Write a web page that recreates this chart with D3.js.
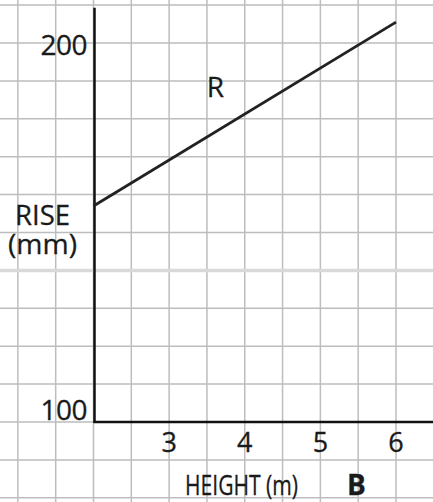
<!DOCTYPE html>
<html>
<head>
<meta charset="utf-8">
<script src="https://cdn.jsdelivr.net/npm/d3@7"></script>
<style>
html,body{margin:0;padding:0;background:#fff;}
svg{display:block;}
text{font-family:"Open Sans","Noto Sans",sans-serif;fill:#1a1a1a;stroke:#1a1a1a;stroke-width:0.3px;}
</style>
</head>
<body>
<script>
// Data
const heights = [2, 6];            // HEIGHT (m)
const riseR = [157, 205.5];        // RISE (mm) for line R
const xTicks = [3, 4, 5, 6];
const yTicks = [100, 200];
const seriesLabel = "R";
const xTitle = "HEIGHT (m)";
const panelLabel = "B";
const yTitle = ["RISE", "(mm)"];

const W = 433, H = 502;
const svg = d3.select("body").append("svg").attr("width", W).attr("height", H);

const x = d3.scaleLinear().domain([2, 6]).range([93.5, 396]);
const y = d3.scaleLinear().domain([100, 200]).range([422, 43]);

// grid
const gx = d3.range(1, 7.01, 0.5);
const gy = d3.range(80, 211, 10);
svg.append("g").selectAll("line").data(gx).join("line")
  .attr("x1", d => x(d)).attr("x2", d => x(d))
  .attr("y1", 0).attr("y2", H)
  .attr("stroke", "#bdbdbd").attr("stroke-width", 1.5);
svg.append("g").selectAll("line").data(gy).join("line")
  .attr("x1", 0).attr("x2", W)
  .attr("y1", d => y(d)).attr("y2", d => y(d))
  .attr("stroke", d => d === 140 ? "#d9d9d9" : "#bdbdbd")
  .attr("stroke-width", d => d === 140 ? 3.5 : 1.5);

// axes
svg.append("line")
  .attr("x1", x(2) + 1).attr("x2", x(2) + 1)
  .attr("y1", y(209.3)).attr("y2", y(100) + 1)
  .attr("stroke", "#111").attr("stroke-width", 2.5);
svg.append("line")
  .attr("x1", x(2)).attr("x2", W)
  .attr("y1", y(100)).attr("y2", y(100))
  .attr("stroke", "#111").attr("stroke-width", 2.5);

// tick labels
svg.append("g").selectAll("text").data(xTicks).join("text")
  .attr("x", d => x(d)).attr("y", 452)
  .attr("text-anchor", "middle").attr("font-size", 27)
  .text(d => d);
svg.append("g").selectAll("text").data(yTicks).join("text")
  .attr("x", 87).attr("y", d => d === 100 ? y(d) - 2 : y(d) + 12)
  .attr("text-anchor", "end").attr("font-size", 28).attr("letter-spacing", -0.5)
  .text(d => d);

// line R
const line = d3.line().x(d => x(d[0])).y(d => y(d[1]));
svg.append("path")
  .datum(heights.map((h, i) => [h, riseR[i]]))
  .attr("d", line)
  .attr("fill", "none").attr("stroke", "#222").attr("stroke-width", 2.8);
svg.append("text").attr("x", x(3.6) + 1).attr("y", 97)
  .attr("text-anchor", "middle").attr("font-size", 28).text(seriesLabel);

// titles
svg.append("text").attr("x", 185).attr("y", 495)
  .attr("font-size", 28).attr("textLength", 113).attr("lengthAdjust", "spacingAndGlyphs").text(xTitle);
svg.append("text").attr("x", 347).attr("y", 495)
  .attr("font-size", 28).attr("font-weight", "bold").text(panelLabel);
svg.append("text").attr("x", 15).attr("y", 225)
  .attr("font-size", 28).attr("textLength", 55).attr("lengthAdjust", "spacingAndGlyphs").text(yTitle[0]);
svg.append("text").attr("x", 8).attr("y", 254)
  .attr("font-size", 28).attr("textLength", 69).attr("lengthAdjust", "spacingAndGlyphs").text(yTitle[1]);
</script>
</body>
</html>
